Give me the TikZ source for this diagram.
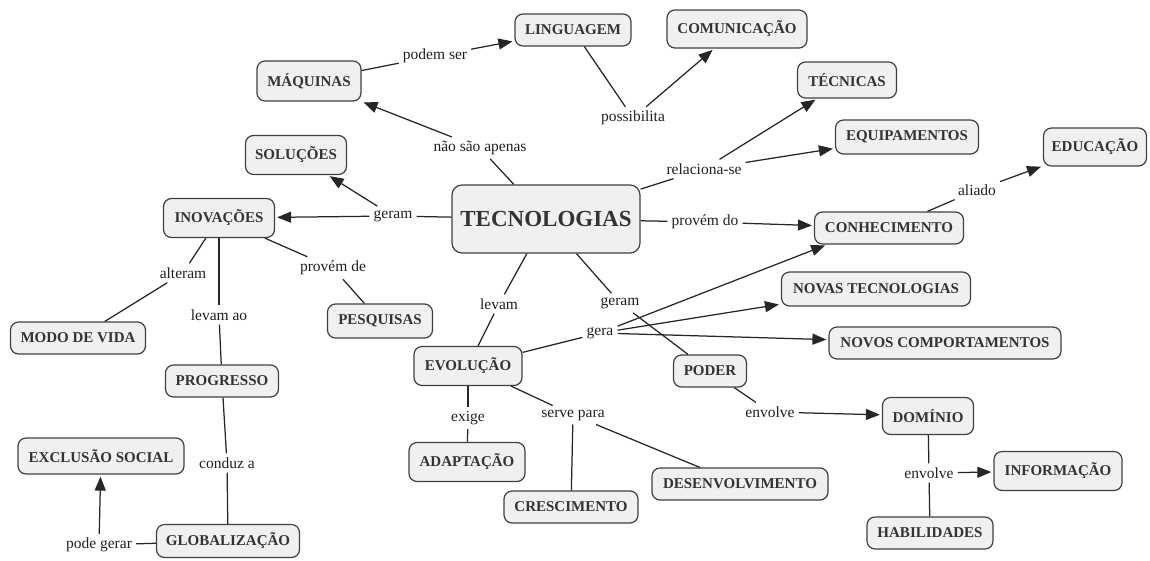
\documentclass[tikz,border=0pt]{standalone}
\usepackage{fontspec}
\setmainfont{Liberation Serif}
\usetikzlibrary{arrows.meta}
\begin{document}
\begin{tikzpicture}[x=1pt,y=-1pt,
 concept/.style={draw=black!75, fill=black!6, rounded corners=8pt, line width=1.2pt,
   font=\fontsize{15}{18}\selectfont\bfseries, text=black!80, inner sep=2pt},
 link/.style={font=\fontsize{15.5}{18}\selectfont, text=black!88, inner sep=4pt},
 conn/.style={draw=black!85, line width=1.25pt},
 arr/.style={conn, shorten >=2pt, -{Triangle[length=14pt,width=11pt]}}]
\useasboundingbox (0,0) rectangle (1150,560);
% concepts
\node[concept, minimum width=104pt, minimum height=40pt] (maq) at (309,81) {MÁQUINAS};
\node[concept, minimum width=116pt, minimum height=32pt] (ling) at (573,30) {LINGUAGEM};
\node[concept, minimum width=140pt, minimum height=38pt] (com) at (737,29) {COMUNICAÇÃO};
\node[concept, minimum width=99pt, minimum height=36pt] (tec) at (847,80) {TÉCNICAS};
\node[concept, minimum width=143pt, minimum height=34pt] (equ) at (907,137) {EQUIPAMENTOS};
\node[concept, minimum width=103pt, minimum height=38pt] (edu) at (1095,147) {EDUCAÇÃO};
\node[concept, minimum width=149pt, minimum height=32pt] (con) at (889,228) {CONHECIMENTO};
\node[concept, minimum width=188pt, minimum height=68pt, rounded corners=10pt,
   font=\fontsize{23}{26}\selectfont\bfseries] (tecn) at (546,219) {TECNOLOGIAS};
\node[concept, minimum width=101pt, minimum height=39pt] (sol) at (296,155) {SOLUÇÕES};
\node[concept, minimum width=111pt, minimum height=39pt] (ino) at (219,218) {INOVAÇÕES};
\node[concept, minimum width=135pt, minimum height=32pt] (modo) at (78,338) {MODO DE VIDA};
\node[concept, minimum width=105pt, minimum height=34pt] (pesq) at (380,321) {PESQUISAS};
\node[concept, minimum width=113pt, minimum height=32pt] (prog) at (222,381) {PROGRESSO};
\node[concept, minimum width=166pt, minimum height=36pt] (exc) at (101,456) {EXCLUSÃO SOCIAL};
\node[concept, minimum width=143pt, minimum height=33pt] (glob) at (228,541) {GLOBALIZAÇÃO};
\node[concept, minimum width=108pt, minimum height=39pt] (evo) at (468,366) {EVOLUÇÃO};
\node[concept, minimum width=73pt, minimum height=32pt] (pod) at (710,371) {PODER};
\node[concept, minimum width=116pt, minimum height=39pt] (adap) at (467,462) {ADAPTAÇÃO};
\node[concept, minimum width=134pt, minimum height=32pt] (cres) at (571,507) {CRESCIMENTO};
\node[concept, minimum width=176pt, minimum height=32pt] (des) at (740,484) {DESENVOLVIMENTO};
\node[concept, minimum width=189pt, minimum height=34pt] (novt) at (876,289) {NOVAS TECNOLOGIAS};
\node[concept, minimum width=232pt, minimum height=32pt] (novc) at (945,343) {NOVOS COMPORTAMENTOS};
\node[concept, minimum width=91pt, minimum height=37pt] (dom) at (928,416) {DOMÍNIO};
\node[concept, minimum width=128pt, minimum height=39pt] (inf) at (1058,471) {INFORMAÇÃO};
\node[concept, minimum width=126pt, minimum height=32pt] (hab) at (930,533) {HABILIDADES};
% linking phrases
\node[link] (lpod) at (435,56) {podem ser};
\node[link] (lposs) at (633,118) {possibilita};
\node[link] (lnao) at (480,148) {não são apenas};
\node[link] (lrel) at (704,169) {relaciona-se};
\node[link] (lger1) at (393,216) {geram};
\node[link] (lprov) at (705,222) {provém do};
\node[link] (lali) at (977,190) {aliado};
\node[link] (lalt) at (183,273) {alteram};
\node[link] (lprovde) at (333,268) {provém de};
\node[link] (llevao) at (219,315) {levam ao};
\node[link] (lcond) at (227,463) {conduz a};
\node[link] (lpode) at (99,545) {pode gerar};
\node[link] (llev) at (499,304) {levam};
\node[link] (lger2) at (620,303) {geram};
\node[link] (lgera) at (600,333) {gera};
\node[link] (lexi) at (468,418) {exige};
\node[link] (lserv) at (573,415) {serve para};
\node[link] (lenv1) at (770,412) {envolve};
\node[link] (lenv2) at (929,473) {envolve};
% connectors
\draw[conn] (maq) -- (lpod);
\draw[arr] (lpod) -- (ling);
\draw[conn] (ling) -- (lposs);
\draw[arr] (lposs) -- (com);
\draw[conn] (tecn) -- (lnao);
\draw[arr] (lnao) -- (maq);
\draw[conn] (tecn) -- (lrel);
\draw[arr] (lrel) -- (tec);
\draw[arr] (lrel) -- (equ);
\draw[conn] (tecn) -- (lger1);
\draw[arr] (lger1) -- (ino);
\draw[arr] (lger1) -- (sol);
\draw[conn] (tecn) -- (lprov);
\draw[arr] (lprov) -- (con);
\draw[conn] (con) -- (lali);
\draw[arr] (lali) -- (edu);
\draw[conn] (tecn) -- (llev);
\draw[conn] (llev) -- (evo);
\draw[conn] (tecn) -- (lger2);
\draw[conn] (lger2) -- (pod);
\draw[conn] (evo) -- (lgera);
\draw[arr] (lgera) -- (con.195);
\draw[arr] (lgera) -- (novt);
\draw[arr] (lgera) -- (novc);
\draw[conn] (evo) -- (lexi);
\draw[conn] (lexi) -- (adap);
\draw[conn] (evo) -- (lserv);
\draw[conn] (lserv) -- (cres);
\draw[conn] (lserv) -- (des);
\draw[conn] (pod) -- (lenv1);
\draw[arr] (lenv1) -- (dom);
\draw[conn] (dom) -- (lenv2);
\draw[arr] (lenv2) -- (inf);
\draw[conn] (lenv2) -- (hab);
\draw[conn] (ino) -- (lalt);
\draw[conn] (lalt) -- (modo);
\draw[conn] (ino) -- (llevao);
\draw[conn] (llevao) -- (prog);
\draw[conn] (ino) -- (lprovde);
\draw[conn] (lprovde) -- (pesq);
\draw[conn] (prog) -- (lcond);
\draw[conn] (lcond) -- (glob);
\draw[conn] (glob) -- (lpode);
\draw[arr] (lpode) -- (exc);
\end{tikzpicture}
\end{document}
